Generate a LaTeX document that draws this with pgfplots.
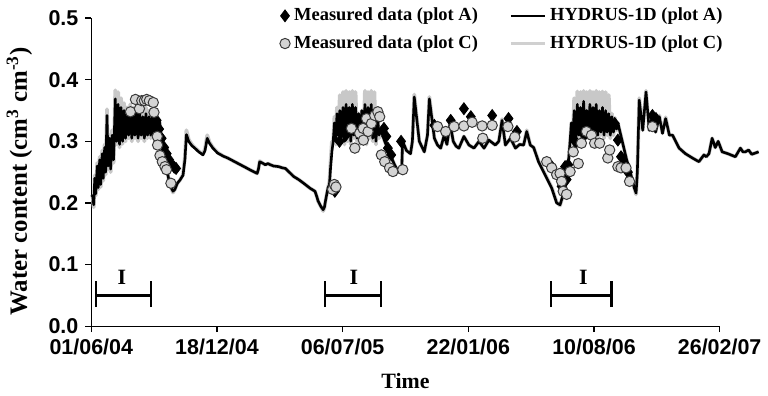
\documentclass[border=0pt]{standalone}
\usepackage{fontspec}
\setmainfont{Liberation Serif}
\setsansfont{Liberation Sans}
\usepackage{pgfplots}
\pgfplotsset{compat=1.18}
\definecolor{simgray}{HTML}{C8C8C8}
\definecolor{leggray}{HTML}{D0D0D0}
\definecolor{circfill}{HTML}{D4D4D4}
\definecolor{circedge}{HTML}{3A3A3A}

\begin{document}
\begin{tikzpicture}
\begin{axis}[
  scale only axis, width=316.5pt, height=155.2pt,
  xmin=0, xmax=1000, ymin=0, ymax=0.5,
  clip=false,
  axis lines=left, axis line style={-, line width=0.6pt},
  tick style={line width=0.6pt, black}, tick align=outside, major tick length=3pt,
  xtick={0,200,400,600,800,1000},
  xticklabels={01/06/04,18/12/04,06/07/05,22/01/06,10/08/06,26/02/07},
  ytick={0,0.1,0.2,0.3,0.4,0.5},
  yticklabels={0.0,0.1,0.2,0.3,0.4,0.5},
  ticklabel style={font=\fontsize{10.8}{12}\selectfont\sffamily\bfseries},
  xlabel={Time},
  xlabel style={font=\fontsize{11}{13}\selectfont\bfseries, at={(axis description cs:0.5,-0.177)}, anchor=center},
  ylabel={Water content (cm\textsuperscript{3} cm\textsuperscript{-3})},
  ylabel style={font=\fontsize{12.5}{15}\selectfont\bfseries, at={(axis description cs:-0.1145,0.47)}, anchor=center},
  legend columns=2,
  legend cell align=left,
  legend style={draw=none, fill=none, font=\fontsize{9.3}{11}\selectfont\bfseries,
    at={(axis description cs:0.29,1.06)}, anchor=north west,
    row sep=2pt,
    /tikz/every even column/.append style={column sep=14pt}},
]
% HYDRUS-1D plot C (grey, underneath)
\addplot[simgray, line width=1.9pt, line join=round, forget plot] coordinates {
(0.8,0.213)(2.4,0.21)(3.9,0.193)(5.5,0.245)(7.1,0.212)(9.5,0.265)(11,0.222)(13.4,0.275)(15,0.226)(17.4,0.285)(19,0.236)(21.3,0.295)(22.9,0.246)(25,0.352)(26.9,0.255)(29.2,0.31)(30.8,0.25)(33.2,0.318)(35.5,0.265)(38.2,0.383)(40.3,0.295)(42.7,0.38)(45,0.29)(47.4,0.37)(49.8,0.296)(52.1,0.362)(54.5,0.3)(57,0.355)(59.5,0.305)(62,0.36)(64.5,0.3)(67,0.355)(69.5,0.305)(72,0.36)(74.5,0.3)(77,0.355)(79.5,0.305)(82,0.35)(84.5,0.3)(87,0.355)(89.5,0.305)(92,0.35)(94.5,0.305)(97,0.345)(99.5,0.305)(102,0.34)(104.5,0.31)(107,0.336)(109,0.33)
(111,0.30)(115,0.28)(119,0.26)(123,0.24)(127,0.225)(130,0.217)(133,0.222)(137,0.232)(141,0.237)(146,0.246)(149,0.275)(151.4,0.318)(155,0.303)(160,0.295)(164.6,0.29)(171,0.284)(177.7,0.279)(181,0.288)(184.5,0.31)(188,0.299)(193.5,0.29)(201,0.282)(210,0.276)(217,0.273)(230,0.266)(243,0.259)(254,0.253)(264,0.248)(266,0.255)(268,0.268)(272,0.265)(277,0.262)(281,0.264)(285,0.262)(290,0.26)(298,0.259)(304,0.257)(309,0.256)(315,0.25)(322,0.243)(330,0.238)(338,0.232)(348,0.224)(356,0.219)(359,0.21)(361,0.203)(365,0.195)(369,0.187)(371,0.192)(373,0.205)(376.6,0.224)(379,0.235)(381,0.27)(383,0.30)
(385,0.30)(387,0.34)(389,0.295)(391,0.355)(393,0.30)(395.5,0.375)(398,0.30)(400.5,0.38)(403,0.295)(405.5,0.382)(408,0.30)(410.5,0.38)(413,0.295)(415.5,0.382)(418,0.305)(420.5,0.38)(423,0.30)(425.5,0.345)(428,0.295)(430.5,0.35)(433,0.30)(435.5,0.382)(438,0.295)(440.5,0.38)(443,0.305)(445.5,0.382)(448,0.30)(450.5,0.38)(453,0.295)(455.5,0.35)(458,0.305)(460,0.32)
(467,0.30)(475,0.28)(482.6,0.262)(489,0.25)(494,0.255)(495.5,0.30)(501.6,0.285)(508,0.28)(511,0.30)(514,0.376)(522,0.30)(530,0.283)(535,0.31)(538,0.372)(546,0.305)(551,0.294)(556,0.289)(561.6,0.31)(566,0.295)(571,0.33)(576,0.30)(580.6,0.292)(585,0.289)(593,0.308)(601,0.294)(609,0.289)(617,0.30)(625,0.289)(632.7,0.302)(643,0.294)(648.5,0.30)(653.7,0.336)(659,0.294)(667,0.305)(675,0.289)(681.7,0.295)(688,0.294)(693,0.318)(698.6,0.294)(704,0.29)(711.7,0.268)(722,0.247)(732.7,0.225)(740.6,0.201)(746,0.196)(754,0.224)(759,0.262)(762,0.30)
(764,0.33)(766,0.295)(768.5,0.37)(771,0.285)(773.5,0.381)(776,0.305)(778.5,0.38)(781,0.30)(783.5,0.382)(786,0.305)(788.5,0.38)(791,0.31)(793.5,0.382)(796,0.305)(798.5,0.38)(801,0.31)(803.5,0.382)(806,0.305)(808.5,0.38)(811,0.31)(813.5,0.381)(816,0.305)(818.5,0.38)(821,0.31)(823.5,0.375)(826,0.305)(828.5,0.345)(831,0.31)(833.5,0.338)(836,0.318)(838,0.33)
(845,0.30)(852,0.27)(859,0.245)(864,0.225)(867,0.214)(869,0.25)(872,0.37)(877.6,0.318)(882.8,0.382)(888,0.318)(893,0.345)(898,0.315)(904,0.342)(909,0.313)(914,0.339)(920,0.31)(925,0.31)(935.5,0.289)(945.5,0.28)(956.6,0.273)(967,0.267)(975,0.278)(978.7,0.275)(983,0.28)(988,0.305)(993,0.29)(997.6,0.30)(1004,0.283)(1013,0.28)(1025,0.275)(1033,0.289)(1037,0.283)(1041,0.283)(1046,0.286)(1051,0.279)(1056.6,0.281)(1062,0.283)
};
% HYDRUS-1D plot A (black)
\addplot[black, line width=1.3pt, line join=round, forget plot] coordinates {
(0.8,0.213)(2.4,0.21)(3.9,0.197)(5.5,0.24)(7.1,0.215)(9.5,0.26)(11,0.225)(13.4,0.27)(15,0.23)(17.4,0.28)(19,0.24)(21.3,0.29)(22.9,0.25)(25,0.342)(26.9,0.26)(29.2,0.305)(30.8,0.255)(33.2,0.31)(35.5,0.27)(38.2,0.369)(40.3,0.30)(42.7,0.36)(45,0.295)(47.4,0.355)(49.8,0.30)(52.1,0.35)(54.5,0.305)(57,0.345)(59.5,0.31)(62,0.35)(64.5,0.305)(67,0.345)(69.5,0.31)(72,0.35)(74.5,0.305)(77,0.345)(79.5,0.31)(82,0.34)(84.5,0.305)(87,0.345)(89.5,0.31)(92,0.34)(94.5,0.31)(97,0.34)(99.5,0.31)(102,0.335)(104.5,0.315)(107,0.334)(109,0.33)
(111,0.30)(115,0.28)(119,0.26)(123,0.24)(127,0.225)(130,0.219)(133,0.222)(137,0.232)(141,0.237)(146,0.245)(149,0.27)(151.4,0.311)(155,0.30)(160,0.293)(164.6,0.289)(171,0.283)(177.7,0.278)(181,0.285)(184.5,0.305)(188,0.297)(193.5,0.289)(201,0.281)(210,0.276)(217,0.273)(230,0.266)(243,0.259)(254,0.253)(264,0.248)(266,0.255)(268,0.267)(272,0.265)(277,0.262)(281,0.264)(285,0.262)(290,0.26)(298,0.259)(304,0.257)(309,0.256)(315,0.25)(322,0.243)(330,0.238)(338,0.232)(348,0.224)(356,0.219)(359,0.21)(361,0.203)(365,0.195)(369,0.189)(371,0.193)(373,0.205)(376.6,0.224)(379,0.23)(381,0.26)(383,0.284)
(385,0.30)(387,0.33)(389,0.30)(391,0.345)(393,0.31)(395.5,0.35)(398,0.305)(400.5,0.355)(403,0.30)(405.5,0.36)(408,0.31)(410.5,0.355)(413,0.30)(415.5,0.36)(418,0.31)(420.5,0.355)(423,0.305)(425.5,0.345)(428,0.30)(430.5,0.35)(433,0.305)(435.5,0.36)(438,0.30)(440.5,0.355)(443,0.31)(445.5,0.36)(448,0.305)(450.5,0.35)(453,0.30)(455.5,0.34)(458,0.31)(460,0.32)
(467,0.30)(475,0.28)(482.6,0.262)(489,0.25)(494,0.255)(495.5,0.30)(501.6,0.285)(508,0.28)(511,0.30)(514,0.372)(522,0.30)(530,0.283)(535,0.31)(538,0.369)(546,0.305)(551,0.294)(556,0.289)(561.6,0.31)(566,0.295)(571,0.33)(576,0.30)(580.6,0.292)(585,0.289)(593,0.308)(601,0.294)(609,0.289)(617,0.30)(625,0.289)(632.7,0.302)(643,0.294)(648.5,0.30)(653.7,0.334)(659,0.294)(667,0.305)(675,0.289)(681.7,0.295)(688,0.294)(693,0.316)(698.6,0.294)(704,0.29)(711.7,0.267)(722,0.246)(732.7,0.224)(740.6,0.20)(746,0.197)(754,0.224)(759,0.262)(762,0.30)
(764,0.33)(766,0.30)(768.5,0.35)(771,0.29)(773.5,0.36)(776,0.31)(778.5,0.355)(781,0.305)(783.5,0.365)(786,0.31)(788.5,0.35)(791,0.315)(793.5,0.36)(796,0.31)(798.5,0.355)(801,0.315)(803.5,0.36)(806,0.31)(808.5,0.35)(811,0.315)(813.5,0.355)(816,0.31)(818.5,0.35)(821,0.315)(823.5,0.345)(826,0.31)(828.5,0.34)(831,0.315)(833.5,0.335)(836,0.32)(838,0.33)
(845,0.30)(852,0.27)(859,0.245)(864,0.225)(867,0.216)(869,0.25)(872,0.367)(877.6,0.318)(882.8,0.38)(888,0.318)(893,0.342)(898,0.315)(904,0.34)(909,0.313)(914,0.337)(920,0.31)(925,0.31)(935.5,0.289)(945.5,0.28)(956.6,0.273)(967,0.267)(975,0.278)(978.7,0.275)(983,0.28)(988,0.305)(993,0.29)(997.6,0.30)(1004,0.283)(1013,0.28)(1025,0.275)(1033,0.289)(1037,0.283)(1041,0.283)(1046,0.286)(1051,0.279)(1056.6,0.281)(1062,0.283)
};
% Measured data plot A
\addplot[only marks, mark=diamond*, mark size=3pt, black, forget plot] coordinates {
(104,0.334)(108,0.32)(112,0.305)(116,0.29)(120,0.28)(124,0.27)(128,0.262)(132,0.258)(135,0.256)
(387.6,0.219)(395,0.30)(405,0.31)(415,0.32)(425,0.325)(440,0.33)(450,0.335)
(465.7,0.321)(469.5,0.308)(472,0.289)(477.4,0.278)(493,0.30)
(546,0.326)(572,0.334)(593,0.353)(604,0.34)(638,0.342)(664,0.337)(677.4,0.316)
(732.7,0.259)(748.5,0.227)(754,0.259)(756.4,0.238)(759,0.262)
(770,0.30)(785,0.31)(800,0.32)(815,0.33)(833,0.329)(838,0.302)(843,0.275)(848.7,0.264)(854,0.25)
(893,0.342)(898.6,0.337)
};
% Measured data plot C
\addplot[only marks, mark=*, mark size=2.6pt, draw=circedge, fill=circfill, line width=0.5pt, forget plot] coordinates {
(62.4,0.348)(70.3,0.368)(76.6,0.353)(80.3,0.366)(84.5,0.366)(88.2,0.368)(92.4,0.366)(98.7,0.363)(99.8,0.347)(105,0.308)(105.5,0.294)(109.3,0.277)(113,0.267)(117.2,0.259)(119.7,0.254)(126.7,0.232)
(384,0.222)(386.7,0.23)(389.4,0.226)(414,0.321)(419.4,0.289)(427,0.313)(432.5,0.321)(433,0.302)(438,0.337)(440.5,0.316)(445.8,0.329)(451,0.342)(456,0.348)(459,0.34)(461.6,0.278)(467,0.267)(474.7,0.257)(480,0.251)(495.7,0.254)
(551,0.324)(564,0.316)(577.4,0.324)(593,0.325)(606,0.331)(622,0.325)(623,0.305)(638,0.326)(663,0.324)(674,0.307)
(724.8,0.267)(732.7,0.257)(740.6,0.246)(746,0.248)(748.5,0.235)(751,0.219)(756.4,0.214)(762,0.251)(767,0.283)(775,0.264)(780,0.297)(788,0.316)(796,0.31)(801,0.297)(809,0.297)(822,0.273)(825,0.286)(838,0.259)(843,0.257)(851,0.257)(856.6,0.235)(893,0.324)
};
% interval brackets
\addplot[black, line width=1.1pt, forget plot] coordinates {(7,0.05)(95,0.05)};
\addplot[black, line width=1.1pt, forget plot] coordinates {(7,0.031)(7,0.073)};
\addplot[black, line width=1.1pt, forget plot] coordinates {(95,0.031)(95,0.073)};
\addplot[black, line width=1.1pt, forget plot] coordinates {(371.5,0.05)(461,0.05)};
\addplot[black, line width=1.1pt, forget plot] coordinates {(371.5,0.031)(371.5,0.073)};
\addplot[black, line width=1.1pt, forget plot] coordinates {(461,0.031)(461,0.073)};
\addplot[black, line width=1.1pt, forget plot] coordinates {(732,0.05)(828,0.05)};
\addplot[black, line width=1.1pt, forget plot] coordinates {(732,0.031)(732,0.073)};
\addplot[black, line width=1.1pt, forget plot] coordinates {(828,0.031)(828,0.073)};
\node[font=\fontsize{11}{12}\selectfont\bfseries] at (axis cs:48.6,0.08) {I};
\node[font=\fontsize{11}{12}\selectfont\bfseries] at (axis cs:418,0.08) {I};
\node[font=\fontsize{11}{12}\selectfont\bfseries] at (axis cs:783,0.08) {I};
% legend
\addlegendimage{only marks, mark=diamond*, mark size=3pt, black}
\addlegendentry{Measured data (plot A)}
\addlegendimage{black, line width=1.3pt}
\addlegendentry{HYDRUS-1D (plot A)}
\addlegendimage{only marks, mark=*, mark size=2.6pt, draw=circedge, fill=circfill, line width=0.5pt}
\addlegendentry{Measured data (plot C)}
\addlegendimage{leggray, line width=1.3pt}
\addlegendentry{HYDRUS-1D (plot C)}
\end{axis}
\end{tikzpicture}
\end{document}
